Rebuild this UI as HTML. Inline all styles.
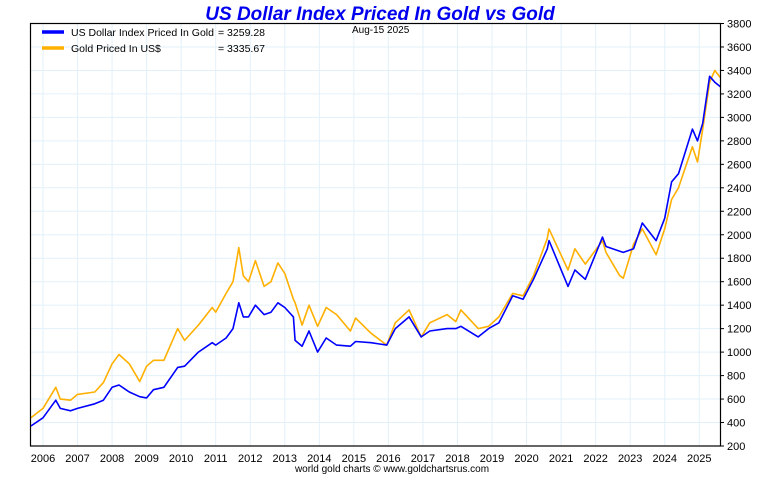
<!DOCTYPE html>
<html><head><meta charset="utf-8"><style>
body{margin:0;background:#fff;width:760px;height:475px;overflow:hidden;font-family:"Liberation Sans",sans-serif}
</style></head><body>
<svg id="chart" width="760" height="475" xmlns="http://www.w3.org/2000/svg" font-family="Liberation Sans, sans-serif">
<text x="380" y="20" text-anchor="middle" font-size="19" font-weight="bold" font-style="italic" fill="#0000ee">US Dollar Index Priced In Gold vs Gold</text>
<g id="grid"></g>
<g id="series"></g>
<rect x="30.5" y="23.5" width="690" height="422.5" fill="none" stroke="#000" stroke-width="1.2"/>
<g id="axes"></g>
<text x="352" y="33" font-size="10">Aug-15  2025</text>
<line x1="42" y1="32" x2="64" y2="32" stroke="#0000ff" stroke-width="3.5"/>
<text x="71" y="36" font-size="10.5">US Dollar Index Priced In Gold</text>
<text x="218" y="36" font-size="10.5">= 3259.28</text>
<line x1="42" y1="48" x2="64" y2="48" stroke="#ffb000" stroke-width="3.5"/>
<text x="71" y="52" font-size="10.5">Gold Priced In US$</text>
<text x="218" y="52" font-size="10.5">= 3335.67</text>
<text x="392" y="472" text-anchor="middle" font-size="10">world gold charts © www.goldchartsrus.com</text>
</svg>
<script>
const dates=[2005.65,2006.0,2006.37,2006.5,2006.8,2007.0,2007.5,2007.75,2008.0,2008.2,2008.5,2008.8,2009.0,2009.2,2009.5,2009.9,2010.1,2010.5,2010.9,2011.0,2011.3,2011.5,2011.67,2011.8,2011.95,2012.15,2012.4,2012.6,2012.8,2013.0,2013.25,2013.3,2013.5,2013.7,2013.95,2014.2,2014.5,2014.9,2015.05,2015.5,2015.95,2016.2,2016.6,2016.95,2017.2,2017.7,2017.95,2018.1,2018.6,2018.9,2019.2,2019.6,2019.9,2020.2,2020.6,2020.65,2021.2,2021.4,2021.7,2022.2,2022.3,2022.7,2022.8,2023.1,2023.35,2023.75,2024.0,2024.2,2024.4,2024.8,2024.95,2025.1,2025.3,2025.45,2025.62];
const goldValues=[440,520,700,600,590,640,660,740,900,980,900,750,880,930,930,1200,1100,1230,1380,1340,1500,1600,1890,1650,1600,1780,1560,1600,1760,1670,1450,1420,1230,1400,1220,1380,1320,1180,1290,1160,1060,1250,1360,1130,1250,1320,1260,1360,1200,1220,1300,1500,1480,1650,1970,2050,1700,1880,1750,1950,1850,1650,1630,1920,2050,1830,2050,2300,2400,2750,2620,2900,3300,3400,3336];
const usdValues=[370,440,590,520,500,520,560,590,700,720,660,620,610,680,700,870,880,1000,1080,1060,1120,1200,1420,1300,1300,1400,1320,1340,1420,1380,1300,1100,1050,1180,1000,1120,1060,1050,1090,1080,1060,1200,1300,1130,1180,1200,1200,1220,1130,1200,1250,1480,1450,1620,1880,1950,1560,1700,1620,1980,1900,1860,1850,1880,2100,1950,2140,2450,2520,2900,2800,2950,3350,3300,3259];
const yTicks=[200,400,600,800,1000,1200,1400,1600,1800,2000,2200,2400,2600,2800,3000,3200,3400,3600,3800];
const xTicks=[2006,2007,2008,2009,2010,2011,2012,2013,2014,2015,2016,2017,2018,2019,2020,2021,2022,2023,2024,2025];
const NS='http://www.w3.org/2000/svg';
function xs(t){return 43+(t-2006)*34.54;}
function ys(v){return 446-(v-200)/3600*422.5;}
const grid=document.getElementById('grid'),axes=document.getElementById('axes'),ser=document.getElementById('series');
function mk(tag,attrs,parent){const e=document.createElementNS(NS,tag);for(const k in attrs)e.setAttribute(k,attrs[k]);parent.appendChild(e);return e;}
yTicks.forEach(v=>{
  const y=ys(v);
  if(v>200&&v<3800){const g=mk('line',{x1:30.5,x2:720.5,y1:y,y2:y,stroke:'#e3f0fa','stroke-width':1},grid);
  
  }
  const tk=mk('line',{x1:720.5,x2:724,y1:y,y2:y,stroke:'#000'},axes);
  
  
  const t=mk('text',{x:727,y:y+4,'font-size':11},axes);t.textContent=v;
  
  
});
xTicks.forEach(yr=>{
  const x=xs(yr);
  const g=mk('line',{x1:x,x2:x,y1:23.5,y2:446,stroke:'#e3f0fa','stroke-width':1},grid);
  
  
  const t=mk('text',{x:x,y:462,'font-size':11,'text-anchor':'middle'},axes);t.textContent=yr;
  
  
});
function line(vals,color,name){
  const pts=dates.map((d,i)=>xs(d).toFixed(1)+','+ys(vals[i]).toFixed(1)).join(' ');
  const p=mk('polyline',{points:pts,fill:'none',stroke:color,'stroke-width':1.6,'stroke-linejoin':'round'},ser);
  
  
}
line(goldValues,'#ffb000','gold-line');
line(usdValues,'#0000ff','usd-index-line');
</script>
</body></html>
